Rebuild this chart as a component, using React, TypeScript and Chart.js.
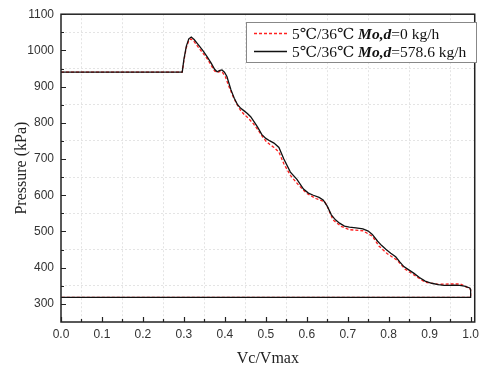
import { useEffect, useRef } from 'react';
import { Chart, registerables } from 'chart.js';

Chart.register(...registerables);

// Series 1: 5℃/36℃ Mo,d = 0 kg/h (red dashed)
const xRed = [0, 0.296, 0.300, 0.306, 0.312, 0.317, 0.324, 0.335, 0.346, 0.357, 0.367, 0.375, 0.381, 0.388, 0.393, 0.401, 0.410, 0.420, 0.430, 0.438, 0.448, 0.458, 0.470, 0.480, 0.490, 0.500, 0.510, 0.520, 0.532, 0.544, 0.560, 0.580, 0.600, 0.622, 0.644, 0.652, 0.664, 0.684, 0.704, 0.737, 0.760, 0.776, 0.796, 0.820, 0.840, 0.856, 0.875, 0.889, 0.921, 0.950, 0.975, 0.998, 1.0, 1.0, 0];
const pRed = [940, 940, 972, 1008, 1027, 1032, 1026, 1009, 993, 977, 958, 943, 939, 942, 941, 928, 900, 873, 850, 835, 822, 812, 797, 782, 765, 750, 740, 732, 719, 687, 655, 628, 605, 591, 582, 564, 532, 514, 505, 502, 487, 460, 439, 421, 396, 384, 370, 360, 354, 355, 355, 342, 338, 318, 318];

// Series 2: 5℃/36℃ Mo,d = 578.6 kg/h (black solid)
const xBlack = [0, 0.296, 0.300, 0.306, 0.312, 0.318, 0.325, 0.335, 0.346, 0.357, 0.367, 0.375, 0.381, 0.388, 0.393, 0.399, 0.405, 0.415, 0.423, 0.431, 0.439, 0.447, 0.455, 0.463, 0.472, 0.480, 0.490, 0.500, 0.510, 0.520, 0.532, 0.544, 0.560, 0.576, 0.592, 0.604, 0.616, 0.630, 0.640, 0.650, 0.660, 0.670, 0.680, 0.692, 0.704, 0.720, 0.737, 0.750, 0.760, 0.773, 0.783, 0.793, 0.805, 0.817, 0.827, 0.837, 0.849, 0.861, 0.875, 0.889, 0.905, 0.921, 0.935, 0.945, 0.960, 0.973, 0.985, 0.998, 1.0, 1.0, 0];
const pBlack = [940, 940, 975, 1012, 1032, 1037, 1030, 1016, 1000, 982, 964, 948, 941, 945, 946, 940, 928, 891, 868, 850, 840, 833, 826, 817, 802, 788, 768, 757, 750, 744, 732, 700, 664, 644, 617, 606, 600, 594, 587, 570, 546, 532, 523, 515, 512, 510, 507, 501, 492, 473, 461, 451, 440, 430, 416, 403, 394, 385, 373, 363, 357, 353, 351, 351, 352, 351, 349, 344, 340, 318, 318];

const xMajorTicks = [0, 0.1, 0.2, 0.3, 0.4, 0.5, 0.6, 0.7, 0.8, 0.9, 1.0];
const xMinorTicks = [0.05, 0.15, 0.25, 0.35, 0.45, 0.55, 0.65, 0.75, 0.85, 0.95];
const yMajorTicks = [300, 400, 500, 600, 700, 800, 900, 1000, 1100];
const yMinorTicks = [350, 450, 550, 650, 750, 850, 950, 1050];

const legendPrefix = ['5℃/36℃ ', '5℃/36℃ '];
const legendBold = ['Mo,d', 'Mo,d'];
const legendSuffix = ['=0 kg/h', '=578.6 kg/h'];

const xTitle = 'Vc/Vmax';
const yTitle = 'Pressure (kPa)';

const isIn = (arr: number[], v: number) => arr.some((a) => Math.abs(a - v) < 1e-6);

const framePlugin = {
  id: 'frameAndLegend',
  afterDraw(chart: any) {
    const { ctx, chartArea: a, scales } = chart;
    const xs = scales.x;
    const ys = scales.y;
    ctx.save();
    // inner ticks
    ctx.strokeStyle = '#222';
    ctx.lineWidth = 1.2;
    ctx.beginPath();
    xMajorTicks.forEach((v) => {
      const px = Math.round(xs.getPixelForValue(v)) + 0.5;
      ctx.moveTo(px, a.bottom);
      ctx.lineTo(px, a.bottom - 5);
    });
    xMinorTicks.forEach((v) => {
      const px = Math.round(xs.getPixelForValue(v)) + 0.5;
      ctx.moveTo(px, a.bottom);
      ctx.lineTo(px, a.bottom - 3);
    });
    yMajorTicks.forEach((v) => {
      const py = Math.round(ys.getPixelForValue(v)) + 0.5;
      ctx.moveTo(a.left, py);
      ctx.lineTo(a.left + 5, py);
    });
    yMinorTicks.forEach((v) => {
      const py = Math.round(ys.getPixelForValue(v)) + 0.5;
      ctx.moveTo(a.left, py);
      ctx.lineTo(a.left + 3, py);
    });
    ctx.stroke();
    // frame
    ctx.lineWidth = 1.5;
    ctx.strokeStyle = '#222';
    ctx.strokeRect(a.left, a.top, a.right - a.left, a.bottom - a.top);

    // legend
    const bx = 246;
    const by = 22;
    const bw = 230;
    const bh = 40;
    ctx.fillStyle = '#fff';
    ctx.fillRect(bx, by, bw, bh);
    ctx.lineWidth = 1;
    ctx.strokeStyle = '#888';
    ctx.strokeRect(bx + 0.5, by + 0.5, bw, bh);
    const rowsY = [33.5, 51.5];
    const styles = [
      { color: '#ff2020', dash: [3, 2] },
      { color: '#111', dash: [] as number[] },
    ];
    rowsY.forEach((yy, i) => {
      ctx.beginPath();
      ctx.setLineDash(styles[i].dash);
      ctx.strokeStyle = styles[i].color;
      ctx.lineWidth = 1.3;
      ctx.moveTo(254, yy);
      ctx.lineTo(287, yy);
      ctx.stroke();
      ctx.setLineDash([]);
      ctx.fillStyle = '#111';
      ctx.textBaseline = 'middle';
      ctx.textAlign = 'left';
      let tx = 292;
      ctx.font = '15.5px "Liberation Serif", "DejaVu Serif", serif';
      ctx.fillText(legendPrefix[i], tx, yy + 1);
      tx += ctx.measureText(legendPrefix[i]).width;
      ctx.font = 'italic bold 15.5px "Liberation Serif", "DejaVu Serif", serif';
      ctx.fillText(legendBold[i], tx, yy + 1);
      tx += ctx.measureText(legendBold[i]).width;
      ctx.font = '15.5px "Liberation Serif", "DejaVu Serif", serif';
      ctx.fillText(legendSuffix[i], tx, yy + 1);
    });
    ctx.restore();
  },
};

export default function App() {
  const canvasRef = useRef<HTMLCanvasElement | null>(null);

  useEffect(() => {
    document.body.style.margin = '0';
    const canvas = canvasRef.current;
    if (!canvas) return;
    const tickFont = { family: '"Liberation Sans", Arial, sans-serif', size: 12 };
    const titleFont = { family: '"Liberation Serif", "Times New Roman", serif', size: 16 };
    const chart = new Chart(canvas, {
      type: 'scatter',
      data: {
        datasets: [
          {
            label: 'Mo,d=578.6 kg/h',
            data: xBlack.map((x, i) => ({ x, y: pBlack[i] })),
            showLine: true,
            borderColor: '#111',
            borderWidth: 1.3,
            pointRadius: 0,
            tension: 0,
            fill: false,
          },
          {
            label: 'Mo,d=0 kg/h',
            data: xRed.map((x, i) => ({ x, y: pRed[i] })),
            showLine: true,
            borderColor: '#ff2020',
            borderWidth: 1.3,
            borderDash: [3, 2],
            pointRadius: 0,
            tension: 0,
            fill: false,
          },
        ],
      },
      options: {
        animation: false,
        responsive: true,
        maintainAspectRatio: false,
        layout: { padding: { top: 10, right: 4, left: 0, bottom: 0 } },
        plugins: { legend: { display: false }, tooltip: { enabled: false } },
        scales: {
          x: {
            type: 'linear',
            min: 0,
            max: 1.01,
            afterBuildTicks: (s: any) => {
              s.ticks = [...xMajorTicks, ...xMinorTicks].sort((a, b) => a - b).map((v) => ({ value: v }));
            },
            afterFit: (s: any) => {
              s.height = 46;
            },
            ticks: {
              autoSkip: false,
              maxRotation: 0,
              padding: 5,
              color: '#333',
              font: tickFont,
              callback: (v: any) => (isIn(xMajorTicks, Number(v)) ? Number(v).toFixed(1) : ''),
            },
            grid: {
              drawTicks: false,
              lineWidth: 1,
              color: (c: any) => (c.tick && isIn(xMinorTicks, c.tick.value) ? '#e4e4e4' : 'rgba(0,0,0,0)'),
            },
            border: { display: false, dash: [2, 2] },
            title: { display: true, text: xTitle, color: '#222', font: titleFont, padding: { top: 0, bottom: 0 } },
          },
          y: {
            type: 'linear',
            min: 250,
            max: 1100,
            afterBuildTicks: (s: any) => {
              s.ticks = [...yMajorTicks, ...yMinorTicks].sort((a, b) => a - b).map((v) => ({ value: v }));
            },
            afterFit: (s: any) => {
              s.width = 61;
            },
            ticks: {
              autoSkip: false,
              padding: 7,
              color: '#333',
              font: tickFont,
              callback: (v: any) => (isIn(yMajorTicks, Number(v)) ? String(v) : ''),
            },
            grid: {
              drawTicks: false,
              lineWidth: 1,
              color: (c: any) => (c.tick && isIn(yMinorTicks, c.tick.value) ? '#e4e4e4' : 'rgba(0,0,0,0)'),
            },
            border: { display: false, dash: [2, 2] },
            title: { display: true, text: yTitle, color: '#222', font: titleFont, padding: { top: 12, bottom: 0 } },
          },
        },
      },
      plugins: [framePlugin],
    } as any);
    return () => chart.destroy();
  }, []);

  return (
    <div style={{ width: 484, height: 368, position: 'relative', background: '#fff' }}>
      <canvas ref={canvasRef} />
    </div>
  );
}
